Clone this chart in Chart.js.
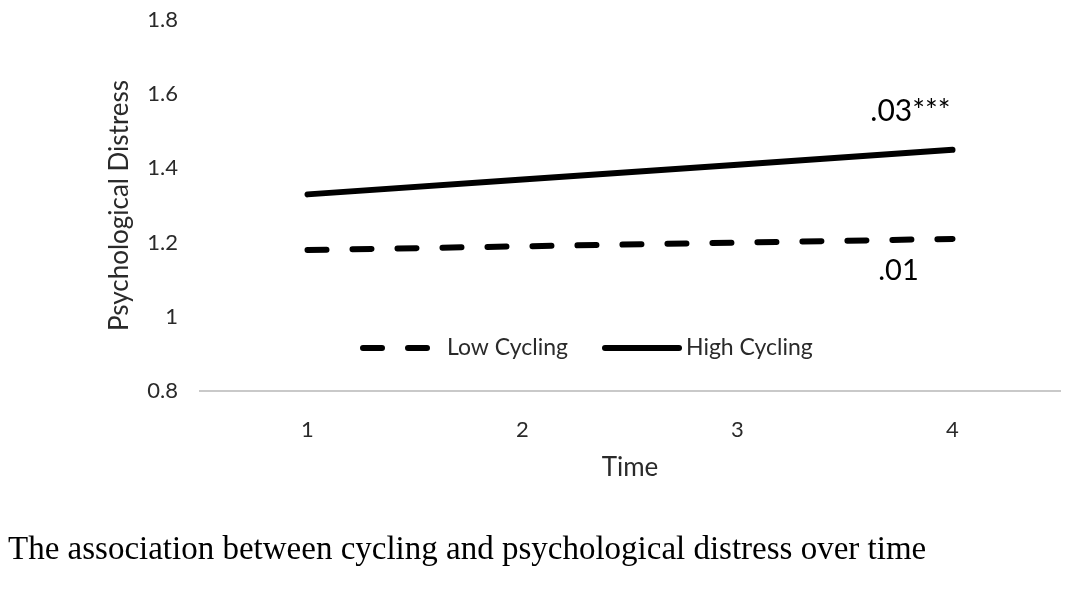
<!DOCTYPE html>
<html>
<head>
<meta charset="utf-8">
<script src="https://cdn.jsdelivr.net/npm/chart.js@4/dist/chart.umd.min.js"></script>
<style>
  html, body { margin: 0; padding: 0; background: #fff; }
  #wrap { position: relative; width: 1077px; height: 590px; overflow: hidden; }
  #c { position: absolute; left: 0; top: 0; }
  #caption { position: absolute; left: 8px; top: 528px; font-family: "Liberation Serif", "Times New Roman", serif; font-size: 33px; line-height: 40px; color: #000; white-space: nowrap; }
</style>
</head>
<body>
<div id="wrap">
  <canvas id="c" width="1077" height="590"></canvas>
  <div id="caption">The association between cycling and psychological distress over time</div>
</div>
<script>
const timeLabels = ["1", "2", "3", "4"];
const lowCycling = [1.18, 1.19, 1.20, 1.21];
const highCycling = [1.33, 1.37, 1.41, 1.45];
const seriesNames = ["Low Cycling", "High Cycling"];
const slopeLabels = [".01", ".03***"];
const yMin = 0.8, yMax = 1.8, yStep = 0.2;

const FONT = "Lato, 'Open Sans', sans-serif";
const textColor = "#2a2a2a";

const overlayPlugin = {
  id: "overlay",
  afterDatasetsDraw(chart) {
    const ctx = chart.ctx;
    const xs = chart.scales.x, ys = chart.scales.y;
    const lastIdx = timeLabels.length - 1;
    const x4 = xs.getPixelForValue(lastIdx);
    ctx.save();
    ctx.fillStyle = "#000";
    ctx.textBaseline = "middle";
    ctx.textAlign = "right";
    ctx.font = "30px " + FONT;
    ctx.fillText(slopeLabels[1], x4 - 2, ys.getPixelForValue(highCycling[lastIdx]) - 39);
    ctx.textAlign = "center";
    ctx.font = "29px " + FONT;
    ctx.fillText(slopeLabels[0], x4 - 54, ys.getPixelForValue(lowCycling[lastIdx]) + 32);

    // legend
    const ly = 348;
    let lx = chart.chartArea.left + 160;
    ctx.strokeStyle = "#000";
    ctx.lineWidth = 6;
    ctx.lineCap = "round";
    ctx.beginPath();
    ctx.moveTo(lx + 3, ly); ctx.lineTo(lx + 22, ly);
    ctx.moveTo(lx + 48, ly); ctx.lineTo(lx + 67, ly);
    ctx.stroke();
    ctx.font = "23px " + FONT;
    ctx.fillStyle = textColor;
    ctx.textAlign = "left";
    ctx.fillText(chart.data.datasets[0].label, lx + 87, ly);
    lx += 242;
    ctx.beginPath();
    ctx.moveTo(lx + 3, ly); ctx.lineTo(lx + 77, ly);
    ctx.stroke();
    ctx.fillText(chart.data.datasets[1].label, lx + 84, ly);
    ctx.restore();
  }
};

new Chart(document.getElementById("c"), {
  type: "line",
  data: {
    labels: timeLabels,
    datasets: [
      {
        label: seriesNames[0],
        data: lowCycling,
        borderColor: "#000",
        borderWidth: 6,
        borderDash: [19, 26],
        borderCapStyle: "round",
        pointRadius: 0,
        tension: 0,
        fill: false
      },
      {
        label: seriesNames[1],
        data: highCycling,
        borderColor: "#000",
        borderWidth: 6,
        borderCapStyle: "round",
        pointRadius: 0,
        tension: 0,
        fill: false
      }
    ]
  },
  options: {
    responsive: false,
    animation: false,
    layout: { padding: { top: 20, right: 17, left: 0, bottom: 0 } },
    plugins: {
      legend: { display: false },
      tooltip: { enabled: false },
      title: { display: false }
    },
    scales: {
      x: {
        offset: true,
        grid: { display: false, drawTicks: false },
        border: { display: true, color: "#c9c9c9", width: 2 },
        ticks: { padding: 26, color: textColor, font: { family: FONT, size: 22 } },
        title: { display: true, text: "Time", color: textColor, font: { family: FONT, size: 26 }, padding: { top: 0, bottom: 107 } },
        afterFit(scale) { scale.height = 199; scale.paddingLeft = 0; scale.paddingRight = 0; }
      },
      y: {
        min: yMin,
        max: yMax,
        grid: { display: false, drawTicks: false },
        border: { display: false },
        ticks: {
          stepSize: yStep, padding: 22, color: textColor, font: { family: FONT, size: 22 },
          callback: (v) => String(parseFloat(Number(v).toFixed(1)))
        },
        title: { display: true, text: "Psychological Distress", color: textColor, font: { family: FONT, size: 26 }, padding: { top: 104, bottom: 0 } },
        afterFit(scale) { scale.width = 200; scale.paddingTop = 0; scale.paddingBottom = 0; }
      }
    }
  },
  plugins: [overlayPlugin]
});
</script>
</body>
</html>
